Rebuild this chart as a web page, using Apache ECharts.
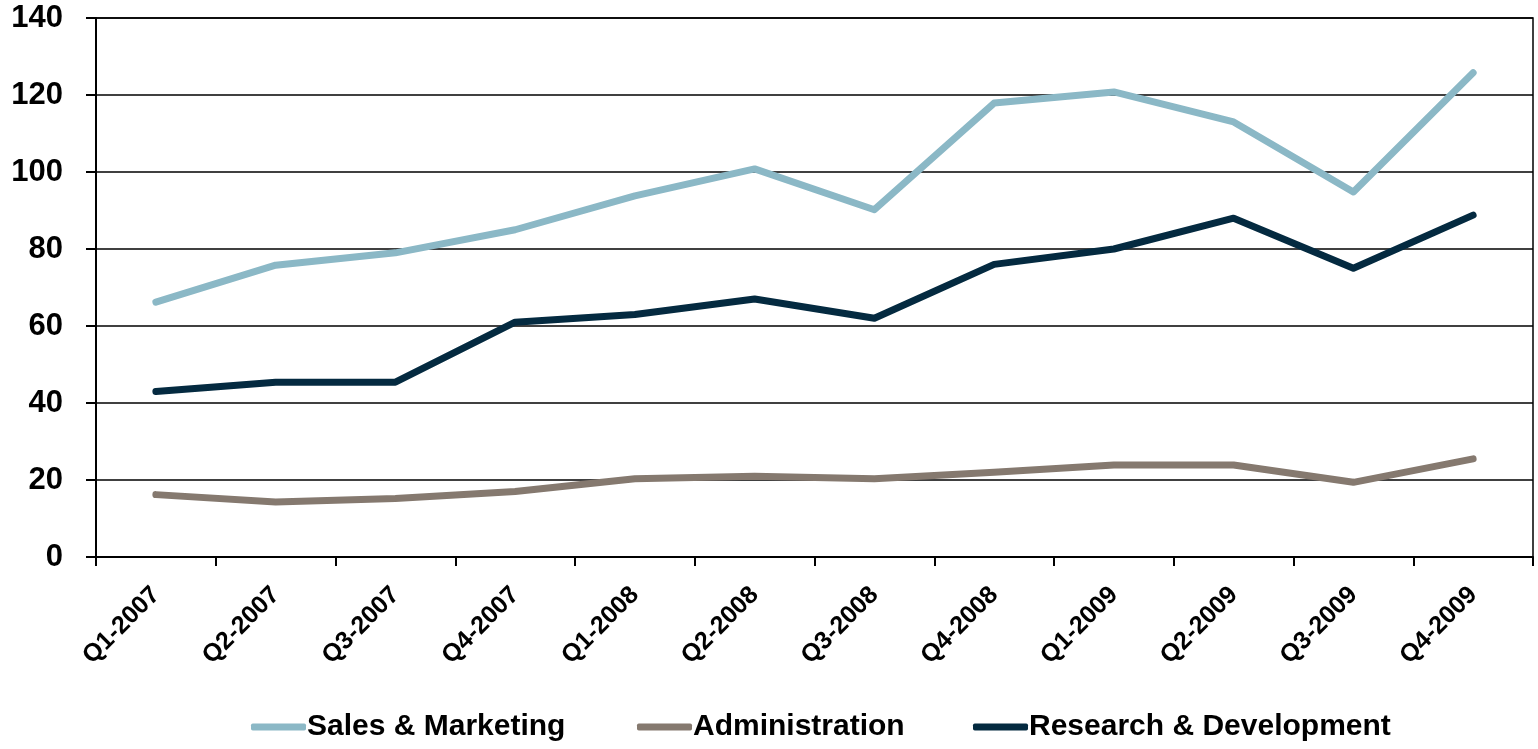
<!DOCTYPE html>
<html>
<head>
<meta charset="utf-8">
<script src="https://cdn.jsdelivr.net/npm/echarts@6/dist/echarts.min.js"></script>
<style>
  html, body { margin: 0; padding: 0; background: #fff; }
  #chart { width: 1538px; height: 749px; }
</style>
</head>
<body>
<div id="chart"></div>
<script>
// quarters on the x axis
var quarters = ['Q1-2007', 'Q2-2007', 'Q3-2007', 'Q4-2007', 'Q1-2008', 'Q2-2008',
  'Q3-2008', 'Q4-2008', 'Q1-2009', 'Q2-2009', 'Q3-2009', 'Q4-2009'];

var salesMarketing = [66.2, 75.8, 79, 85, 93.8, 100.8, 90.2, 117.9, 120.8, 113, 94.8, 125.8];
var administration = [16.2, 14.3, 15.2, 17, 20.3, 21, 20.3, 22, 23.9, 23.9, 19.4, 25.5];
var researchDev = [43, 45.4, 45.4, 61, 63, 67, 62, 76, 80, 88, 75, 88.8];

var seriesNames = ['Sales & Marketing', 'Administration', 'Research & Development'];
var seriesColors = ['#8bb8c6', '#85796f', '#042a40'];

var chart = echarts.init(document.getElementById('chart'));

var font = 'Liberation Sans, Arial, sans-serif';

function line(i, data) {
  return {
    name: seriesNames[i],
    type: 'line',
    data: data,
    symbol: 'none',
    animation: false,
    lineStyle: { color: seriesColors[i], width: 7, cap: 'round', join: 'round' },
    itemStyle: { color: seriesColors[i] }
  };
}

// one legend per item so each sits where it does in the original
var legendLeft = [246, 632, 968];
var legends = seriesNames.map(function (name, i) {
  return {
    left: legendLeft[i],
    bottom: 2,
    itemWidth: 55,
    itemHeight: 7,
    icon: 'roundRect',
    textStyle: { fontFamily: font, fontWeight: 'bold', fontSize: 30, color: '#000', padding: [0, 0, 0, -4] },
    data: [name]
  };
});

chart.setOption({
  backgroundColor: '#fff',
  grid: {
    left: 96, right: 5, top: 18, bottom: 192,
    show: true, borderColor: '#000', borderWidth: 1.5
  },
  legend: legends,
  xAxis: {
    type: 'category',
    data: quarters,
    axisLine: { lineStyle: { color: '#000', width: 2 } },
    axisTick: { show: true, length: 9, lineStyle: { color: '#000', width: 2 } },
    axisLabel: {
      rotate: 45, margin: 34, color: '#000',
      fontFamily: font, fontWeight: 'bold', fontSize: 25
    }
  },
  yAxis: {
    type: 'value',
    min: 0, max: 140, interval: 20,
    axisLine: { show: true, lineStyle: { color: '#000', width: 2 } },
    axisTick: { show: true, length: 10, lineStyle: { color: '#000', width: 2 } },
    splitLine: { lineStyle: { color: '#000', width: 1.5 } },
    axisLabel: {
      margin: 33, color: '#000',
      fontFamily: font, fontWeight: 'bold', fontSize: 31
    }
  },
  series: [
    line(0, salesMarketing),
    line(1, administration),
    line(2, researchDev)
  ]
});
</script>
</body>
</html>
